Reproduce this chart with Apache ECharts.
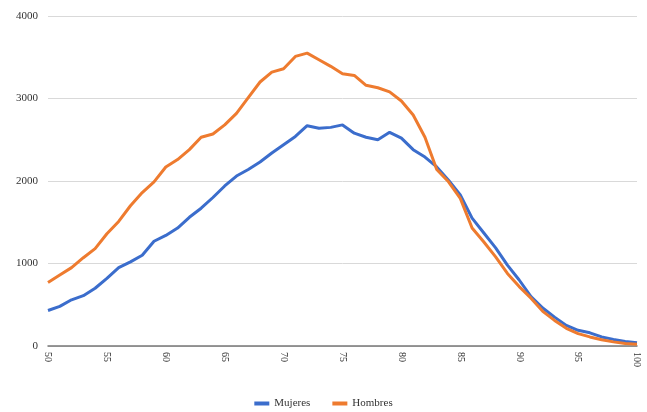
<!DOCTYPE html>
<html lang="es">
<head>
    <meta charset="UTF-8">
    <title>Mujeres y Hombres por edad</title>
    <script src="https://cdn.jsdelivr.net/npm/echarts@6/dist/echarts.min.js"></script>
</head>
<body style="margin:0; background:#fff;">
<div id="main" style="width: 647px; height: 412px;"></div>
<script type="text/javascript">
    const edades = [];
    for (let a = 50; a <= 100; a++) edades.push(String(a));

    const mujeres = [430, 480, 560, 610, 700, 820, 950, 1020, 1100, 1270,
        1340, 1430, 1560, 1670, 1800, 1940, 2060, 2140, 2230, 2340,
        2440, 2540, 2670, 2640, 2650, 2680, 2580, 2530, 2500, 2590,
        2520, 2380, 2290, 2170, 2010, 1830, 1550, 1370, 1190, 980,
        800, 600, 460, 350, 250, 190, 160, 110, 80, 55, 40];

    const hombres = [770, 860, 950, 1070, 1180, 1360, 1510, 1700, 1860, 1990,
        2170, 2260, 2380, 2530, 2570, 2680, 2820, 3010, 3200, 3320,
        3360, 3510, 3550, 3470, 3390, 3300, 3280, 3160, 3130, 3080,
        2970, 2800, 2530, 2140, 1990, 1790, 1430, 1260, 1080, 880,
        720, 580, 420, 310, 215, 150, 110, 75, 50, 30, 20];

    const font = '"Liberation Serif", "DejaVu Serif", serif';

    const myChart = echarts.init(document.getElementById('main'));
    const option = {
        animation: false,
        color: ['#3b6dcc', '#ee7b2f'],
        textStyle: { fontFamily: font },
        grid: { left: 48, right: 10, top: 16, bottom: 66 },
        legend: {
            bottom: -2,
            left: 'center',
            icon: 'rect',
            itemWidth: 15,
            itemHeight: 4,
            itemGap: 22,
            textStyle: { fontFamily: font, fontSize: 11, color: '#333' },
            data: ['Mujeres', 'Hombres']
        },
        xAxis: {
            type: 'category',
            data: edades,
            boundaryGap: false,
            axisLine: { lineStyle: { color: '#777', width: 1.5 } },
            axisTick: { show: false },
            axisLabel: {
                interval: 4,
                rotate: -90,
                fontFamily: font,
                fontSize: 10,
                color: '#333',
                margin: 6
            }
        },
        yAxis: {
            type: 'value',
            min: 0,
            max: 4000,
            interval: 1000,
            axisLine: { show: false },
            axisTick: { show: false },
            splitLine: { lineStyle: { color: '#d9d9d9', width: 1 } },
            axisLabel: {
                fontFamily: font,
                fontSize: 11,
                color: '#333',
                margin: 10,
                formatter: (v) => String(v)
            }
        },
        series: [
            {
                name: 'Mujeres',
                type: 'line',
                data: mujeres,
                symbol: 'none',
                lineStyle: { width: 3 }
            },
            {
                name: 'Hombres',
                type: 'line',
                data: hombres,
                symbol: 'none',
                lineStyle: { width: 3 }
            }
        ]
    };
    myChart.setOption(option);
</script>
</body>
</html>
